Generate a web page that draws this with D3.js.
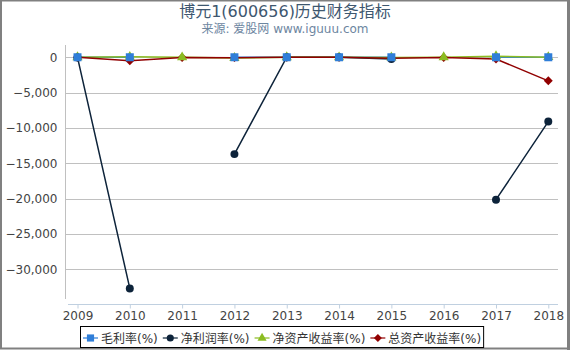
<!DOCTYPE html>
<html>
<head>
<meta charset="utf-8">
<script src="https://cdn.jsdelivr.net/npm/d3@7"></script>
<style>
  body { margin: 0; background: #fff; }
  svg { display: block; font-family: "DejaVu Sans", "Noto Sans CJK SC", sans-serif; }
</style>
</head>
<body>
<svg id="chart"></svg>
<script>
// data
var years = ["2009", "2010", "2011", "2012", "2013", "2014", "2015", "2016", "2017", "2018"];
var grossMargin = [5, 5, null, 5, 5, 5, 5, null, 5, 5];
var netMargin = [-20, -32700, null, -13700, 10, 5, -250, null, -20150, -9100];
var roe = [10, 60, 0, -100, 10, 5, -20, 10, 150, 20];
var roa = [-10, -480, -20, -50, -10, -5, -150, -20, -250, -3330];
var yTicks = [0, -5000, -10000, -15000, -20000, -25000, -30000];
var seriesNames = ["毛利率(%)", "净利润率(%)", "净资产收益率(%)", "总资产收益率(%)"];

var cfg = {
    width: 570,
    height: 350,
    left: 65,
    right: 558,
    top: 45,
    bottom: 299
};

var series = [
    {name: seriesNames[0], values: grossMargin, color: "#2f7ed8", symbol: "square"},
    {name: seriesNames[1], values: netMargin, color: "#0d233a", symbol: "circle"},
    {name: seriesNames[2], values: roe, color: "#8bbc21", symbol: "triangle"},
    {name: seriesNames[3], values: roa, color: "#910000", symbol: "diamond"}
];

var svg = d3.select("#chart").attr("width", cfg.width).attr("height", cfg.height);

// 外框
svg.append("rect")
    .attr("x", 1).attr("y", 0.5)
    .attr("width", cfg.width - 3).attr("height", cfg.height - 2)
    .attr("fill", "#fff")
    .attr("stroke", "#808080")
    .attr("stroke-width", 2);
svg.append("line")
    .attr("x1", 568.5).attr("x2", 568.5).attr("y1", 0).attr("y2", cfg.height)
    .attr("stroke", "#808080").attr("stroke-width", 3);

// 标题
svg.append("text")
    .attr("x", 285).attr("y", 17)
    .attr("text-anchor", "middle")
    .attr("fill", "#3e576f")
    .style("font-size", "16px")
    .text("博元1(600656)历史财务指标");
svg.append("text")
    .attr("x", 285).attr("y", 33)
    .attr("text-anchor", "middle")
    .attr("fill", "#6d869f")
    .style("font-size", "12px")
    .text("来源: 爱股网 www.iguuu.com");

// 比例尺
var x = d3.scalePoint().domain(years).range([77.5, 548.3]);
var y = d3.scaleLinear().domain([-34200, 1740]).range([cfg.bottom, cfg.top]);

// 网格线
svg.append("g")
    .selectAll("line")
    .data(yTicks)
    .enter()
    .append("line")
    .attr("x1", cfg.left)
    .attr("x2", cfg.right)
    .attr("y1", function (d) { return Math.round(y(d)) + 0.5; })
    .attr("y2", function (d) { return Math.round(y(d)) + 0.5; })
    .attr("stroke", "#c0c0c0")
    .attr("stroke-width", 1);

// y轴
var yAxis = svg.append("g")
    .attr("transform", "translate(" + (cfg.left + 0.5) + ",0)")
    .call(d3.axisLeft(y).tickValues(yTicks).tickSize(0).tickPadding(8).tickFormat(d3.format(",")));
yAxis.select(".domain").attr("stroke", "#c0c0c0").attr("d", "M0," + cfg.top + "V" + cfg.bottom);
yAxis.selectAll("text")
    .attr("fill", "#444")
    .style("font-size", "12px")
    .style("font-family", "DejaVu Sans, sans-serif");

// x轴
var xAxis = svg.append("g")
    .attr("transform", "translate(0," + 304.5 + ")")
    .call(d3.axisBottom(x).tickSize(4).tickPadding(3));
xAxis.select(".domain").attr("stroke", "#c0d0e0").attr("d", "M68,0H" + cfg.right);
xAxis.selectAll(".tick line").attr("stroke", "#c0d0e0");
xAxis.selectAll("text")
    .attr("fill", "#444")
    .style("font-size", "12px")
    .style("font-family", "DejaVu Sans, sans-serif");

// 折线
var line = d3.line()
    .defined(function (d) { return d !== null; })
    .x(function (d, i) { return x(years[i]); })
    .y(function (d) { return y(d); });

series.forEach(function (s) {
    svg.append("path")
        .attr("d", line(s.values))
        .attr("fill", "none")
        .attr("stroke", s.color)
        .attr("stroke-width", 1.5);
});

// 菱形：旋转的正方形
var diamondSym = {
    draw: function (context, size) {
        var r = Math.sqrt(size / 2);
        context.moveTo(0, -r);
        context.lineTo(r, 0);
        context.lineTo(0, r);
        context.lineTo(-r, 0);
        context.closePath();
    }
};
var symbolTypes = {
    square: d3.symbolSquare,
    circle: d3.symbolCircle,
    triangle: d3.symbolTriangle,
    diamond: diamondSym
};
var symbolSizes = {square: 64, circle: 50, triangle: 45, diamond: 40};

var drawOrder = [3, 2, 1, 0];
drawOrder.forEach(function (k) {
    var s = series[k];
    svg.append("g")
        .selectAll("path")
        .data(s.values.map(function (v, i) { return {v: v, year: years[i]}; })
            .filter(function (d) { return d.v !== null; }))
        .enter()
        .append("path")
        .attr("transform", function (d) { return "translate(" + x(d.year) + "," + y(d.v) + ")"; })
        .attr("d", d3.symbol().type(symbolTypes[s.symbol]).size(symbolSizes[s.symbol]))
        .attr("fill", s.color);
});

// 图例
var legend = svg.append("g");
var legendBox = legend.append("rect")
    .attr("fill", "#fff")
    .attr("stroke", "#000")
    .attr("stroke-width", 1);
var lx = 83;
series.forEach(function (s) {
    var g = legend.append("g").attr("transform", "translate(" + lx + ",338)");
    g.append("line")
        .attr("x1", 0).attr("x2", 15)
        .attr("stroke", s.color).attr("stroke-width", 1.5)
        .attr("stroke-opacity", 0.8);
    g.append("path")
        .attr("transform", "translate(7.5,0)")
        .attr("d", d3.symbol().type(symbolTypes[s.symbol]).size(symbolSizes[s.symbol] * 0.8))
        .attr("fill", s.color);
    var t = g.append("text")
        .attr("x", 18).attr("y", 4.5)
        .attr("fill", "#333")
        .style("font-size", "12px")
        .text(s.name);
    lx += 18 + t.node().getComputedTextLength() + 5;
});
legendBox
    .attr("x", 80.5).attr("y", 326.5)
    .attr("width", lx - 80 - 3).attr("height", 21);
</script>
</body>
</html>
